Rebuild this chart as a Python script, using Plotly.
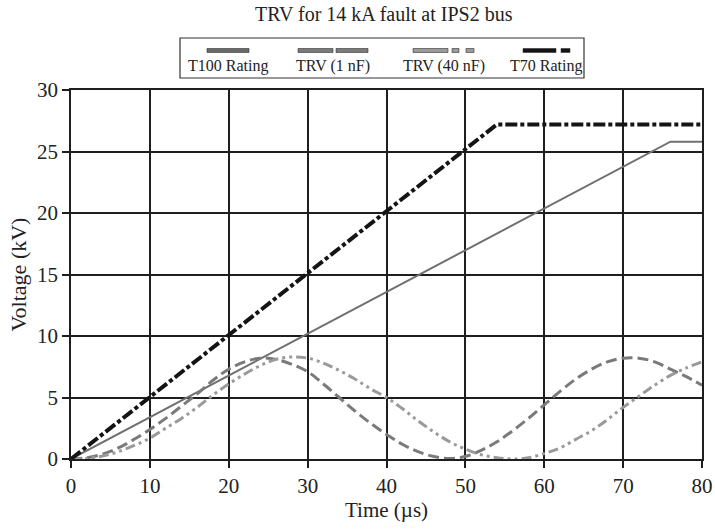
import plotly.graph_objects as go

# time axis (microseconds) and voltages (kV)
t100_time = [0, 76, 80]
t100_kv = [0, 25.8, 25.8]

t70_time = [0, 54, 80]
t70_kv = [0, 27.2, 27.2]

trv_time = [0, 2, 4, 6, 8, 10, 12, 14, 16, 18, 20, 22, 24, 26, 28, 30, 32, 34, 36, 38, 40,
            42, 44, 46, 48, 50, 52, 54, 56, 58, 60, 62, 64, 66, 68, 70, 72, 74, 76, 78, 80]
trv_1nf = [0, 0.1, 0.4, 0.9, 1.6, 2.4, 3.3, 4.3, 5.3, 6.4, 7.3, 7.9, 8.2, 8.1, 7.7, 7.1,
           6.1, 5.0, 3.9, 2.9, 2.0, 1.2, 0.6, 0.2, 0.05, 0.2, 0.7, 1.4, 2.3, 3.3, 4.4, 5.5,
           6.5, 7.3, 7.9, 8.2, 8.2, 7.9, 7.3, 6.7, 6.0]
trv_40nf = [0, 0.05, 0.25, 0.6, 1.1, 1.7, 2.5, 3.3, 4.2, 5.2, 6.1, 6.9, 7.6, 8.1, 8.3, 8.2,
            7.8, 7.2, 6.5, 5.7, 5.0, 4.1, 3.1, 2.2, 1.4, 0.8, 0.35, 0.1, 0.0, 0.1, 0.45, 0.9,
            1.6, 2.3, 3.2, 4.2, 5.1, 6.0, 6.8, 7.4, 7.9]

x_ticks = [0, 10, 20, 30, 40, 50, 60, 70, 80]
y_ticks = [0, 5, 10, 15, 20, 25, 30]

FONT = "Liberation Serif"
W, H = 715, 530
L, R, T, B = 71, 13, 90, 71

fig = go.Figure()
fig.add_trace(go.Scatter(x=t100_time, y=t100_kv, mode="lines", name="T100 Rating",
                         line=dict(color="#707070", width=2)))
fig.add_trace(go.Scatter(x=trv_time, y=trv_1nf, mode="lines", name="TRV (1 nF)", line_shape="spline",
                         line=dict(color="#7a7a7a", width=3, dash="11px,5px")))
fig.add_trace(go.Scatter(x=trv_time, y=trv_40nf, mode="lines", name="TRV (40 nF)", line_shape="spline",
                         line=dict(color="#9a9a9a", width=3, dash="10px,4px,3px,4px,3px,4px")))
fig.add_trace(go.Scatter(x=t70_time, y=t70_kv, mode="lines", name="T70 Rating",
                         line=dict(color="#141414", width=4, dash="12px,3px,4px,3px")))

axis = dict(showgrid=True, gridcolor="#1e1e1e", gridwidth=1.5, showline=True, linecolor="#1e1e1e",
            linewidth=1.5, mirror=True, ticks="outside", ticklen=7, tickcolor="#1e1e1e",
            tickwidth=1.5, zeroline=False, automargin=False,
            tickfont=dict(family=FONT, size=21, color="#222"))
fig.update_xaxes(axis, range=[0, 80], tickvals=x_ticks,
                 title=dict(text="Time (µs)", font=dict(family=FONT, size=21, color="#222"), standoff=2))
fig.update_yaxes(axis, range=[0, 30], tickvals=y_ticks,
                 title=dict(text="Voltage (kV)", font=dict(family=FONT, size=22, color="#222"), standoff=4))

# hand-drawn legend box: sample bar above each label (pixel positions -> paper)
pw, ph = W - L - R, H - T - B
def px(x):
    return (x - L) / pw
def py(y):
    return (H - B - y) / ph

shapes = [dict(type="rect", xref="paper", yref="paper", x0=px(180), x1=px(584), y0=py(78), y1=py(38),
               line=dict(color="#333", width=1.2), fillcolor="white")]
segs = [("#6a6a6a", [(207, 249)]),
        ("#7a7a7a", [(298, 333), (336, 368)]),
        ("#9a9a9a", [(413, 448), (452, 459), (466, 474)]),
        ("#141414", [(523, 556), (561, 570)])]
for color, parts in segs:
    for a, b in parts:
        shapes.append(dict(type="rect", xref="paper", yref="paper", x0=px(a), x1=px(b),
                           y0=py(52.5), y1=py(48.5), line=dict(width=0.6, color="#333"), fillcolor=color))
labels = [("T100 Rating", 228), ("TRV (1 nF)", 333), ("TRV (40 nF)", 444), ("T70 Rating", 546)]
annotations = [dict(text=txt, x=px(cx), y=py(66), xref="paper", yref="paper", showarrow=False,
                    font=dict(family=FONT, size=16, color="#222"), xanchor="center", yanchor="middle")
               for txt, cx in labels]
annotations.append(dict(text="TRV for 14 kA fault at IPS2 bus", x=px(384), y=py(14), xref="paper",
                        yref="paper", showarrow=False, xanchor="center", yanchor="middle",
                        font=dict(family=FONT, size=20, color="#222")))

fig.update_layout(width=W, height=H, margin=dict(l=L, r=R, t=T, b=B), showlegend=False,
                  plot_bgcolor="white", paper_bgcolor="white", shapes=shapes, annotations=annotations)
# drop the browser's default body margin so the figure sits at the page corner
fig.write_html("out.html", config={"displayModeBar": False},
               post_script="document.body.style.margin='0';")
